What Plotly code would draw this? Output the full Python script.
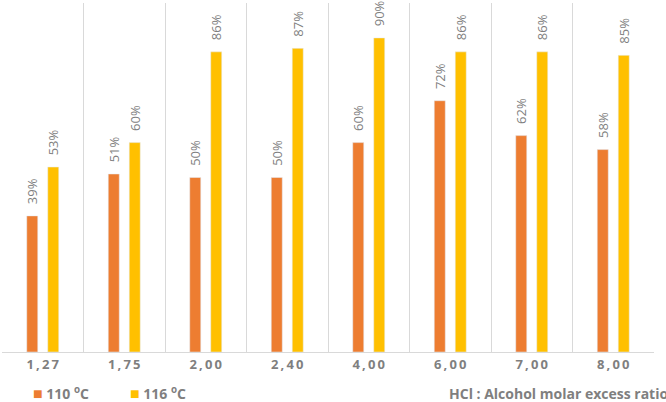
import plotly.graph_objects as go

categories = ["1,27", "1,75", "2,00", "2,40", "4,00", "6,00", "7,00", "8,00"]
s110 = [0.39, 0.51, 0.50, 0.50, 0.60, 0.72, 0.62, 0.58]
s116 = [0.53, 0.60, 0.86, 0.87, 0.90, 0.86, 0.86, 0.85]
names = ["110 <sup>o</sup>C", "116 <sup>o</sup>C"]
colors = ["#ED7D31", "#FFC000"]
label_color = "#7F7F7F"

fig = go.Figure()
for vals, name, col in zip([s110, s116], names, colors):
    fig.add_trace(go.Bar(
        x=categories, y=vals, name=name, marker_color=col,
        text=["\u2002\u2009" + f"{round(v*100)}%" for v in vals],
        textposition="outside", textangle=-90, constraintext="none",
        textfont=dict(family="Open Sans", size=13, color=label_color),
        cliponaxis=False, showlegend=False,
    ))

ticktext = ["\u2009".join(c) for c in categories]

legend_ann = []
for i, (name, col) in enumerate(zip(names, colors)):
    legend_ann.append(dict(
        text=f"<span style='color:{col};font-size:16px'>■</span> {name}",
        xref="paper", yref="paper", x=(31 - 2 + i * 97) / 652, y=-0.118,
        xanchor="left", yanchor="middle", showarrow=False,
        font=dict(family="Open Sans", size=14, color=label_color, weight="bold")))

fig.update_layout(
    width=666, height=402,
    margin=dict(l=2, r=12, t=3, b=50, autoexpand=False),
    plot_bgcolor="white", paper_bgcolor="white",
    barmode="group", bargap=0.485, bargroupgap=0.476,
    showlegend=False,
    xaxis=dict(type="category", tickson="boundaries", showgrid=True,
               gridcolor="#D9D9D9", gridwidth=1,
               showline=True, linecolor="#D9D9D9", ticks="",
               tickvals=categories, ticktext=ticktext,
               tickfont=dict(family="Open Sans", size=13, color=label_color, weight="bold")),
    yaxis=dict(range=[0, 1.0], visible=False),
    annotations=legend_ann + [dict(text="HCl : Alcohol molar excess ratio", xref="paper", yref="paper",
                      x=(670 - 2) / 652, y=-0.118, xanchor="right", yanchor="middle", showarrow=False,
                      font=dict(family="Open Sans", size=14, color=label_color, weight="bold"))],
)
fig.write_html("out.html", config={"displayModeBar": False},
               post_script="document.body.style.margin='0';document.body.style.overflow='hidden';")
